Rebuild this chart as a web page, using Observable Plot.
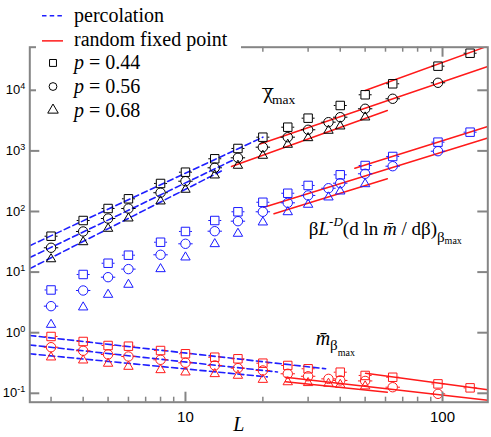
<!DOCTYPE html>
<html><head><meta charset="utf-8">
<script src="https://cdn.jsdelivr.net/npm/d3@7"></script>
<script src="https://cdn.jsdelivr.net/npm/@observablehq/plot@0.6"></script>
<style>
body{margin:0;background:#fff;}
#wrap{position:relative;width:491px;height:437px;}
#legend{position:absolute;left:36px;top:0;}
</style></head><body><div id="wrap"></div>
<script>
// ---- data ----
const sizes = [3,4,5,6,8,10,13,16,20,25,30,36,40,50,64,96,128];
const pValues = [0.44, 0.56, 0.68];

// chi_max
const chi044 = [39.1,71.0,112,162,290,445,741,1096,1683,2460,3465,null,5612,8430,12800,25000,40900];
const chi056 = [25.2,46.8,76.6,112,204,316,526,769,1151,1683,2230,2977,3597,4955,7244,13300,null];
const chi068 = [16.9,32.3,53.8,79.6,152,237,408,590,862,1309,1683,2230,2625,3696,null,null,null];
// beta L^-D (d ln m / d beta)
const beta044 = [5.07,9.13,14.0,19.0,31.1,46.8,71.0,98.9,142,200,269,null,403,574,809,1393,2036];
const beta056 = [2.74,4.97,8.24,11.2,19.3,29.3,47.3,69.2,98.9,139,184,242,293,419,559,988,null];
const beta068 = [1.40,2.71,4.38,6.41,11.6,18.1,30.0,44.5,68.4,101,134,177,222,293,null,null,null];
// m at beta_max
const m044 = [0.866,0.716,0.615,0.599,0.508,0.449,0.394,0.371,0.314,0.288,0.254,null,0.223,0.197,0.184,0.143,0.123];
const m056 = [0.576,0.503,0.437,0.405,0.357,0.319,0.288,0.260,0.238,0.210,0.191,0.173,0.163,0.160,0.126,0.098,null];
const m068 = [0.405,0.361,0.319,0.284,0.250,0.229,0.215,0.202,0.173,0.158,0.153,0.149,0.143,0.135,null,null,null];

// fit lines: [panel, p, L1, v1, L2, v2]
const percolationFits = [
  ["chi",0.44, 2.48,27.3, 20,1683],
  ["chi",0.56, 2.48,17.35, 15.4,713],
  ["chi",0.68, 2.48,11.4, 13.9,473],
  ["m",0.44, 2.48,0.899, 35.1,0.254],
  ["m",0.56, 2.48,0.627, 22.8,0.2246],
  ["m",0.68, 2.48,0.449, 20.8,0.1866]
];
const randomFits = [
  ["chi",0.44, 50,9930, 150,53600],
  ["chi",0.56, 19.5,1300, 150,24700],
  ["chi",0.68, 15.1,553, 61,4640],
  ["beta",0.44, 45.6,518, 150,2528],
  ["beta",0.56, 20.2,117.8, 150,1633],
  ["beta",0.68, 22.1,91.6, 61,346.5],
  ["m",0.44, 50.2,0.2147, 150,0.1147],
  ["m",0.56, 24.5,0.1844, 150,0.0769],
  ["m",0.68, 24.5,0.1554, 61,0.1043]
];

const xDomain = [2.48, 150];
const yDomain = [0.0713, 51400];
const yMajorTicks = [0.1, 1, 10, 100, 1000, 10000];
const xMajorTicks = [10, 100];
const xMinorTicks = [3,4,5,6,7,8,9,20,30,40,50,60,70,80,90];

const annotations = [
  {key: "A_chi", L: 19.9, v: 7600},
  {key: "A_beta", L: 30.2, v: 41.3},
  {key: "A_m", L: 32.1, v: 0.615}
];

const legendRows = [
  {row: 0, label: "percolation", kind: "dash"},
  {row: 1, label: "random fixed point", kind: "solid"},
  {row: 2, label: "p = 0.44", p: 0.44},
  {row: 3, label: "p = 0.56", p: 0.56},
  {row: 4, label: "p = 0.68", p: 0.68}
];

// ---- build tables ----
const panels = [
  {key: "chi", color: "black", series: [chi044, chi056, chi068]},
  {key: "beta", color: "#1a1aff", series: [beta044, beta056, beta068]},
  {key: "m", color: "#ff1a1a", series: [m044, m056, m068]}
];
const points = [];
for (const pn of panels) pn.series.forEach((arr, i) => arr.forEach((v, j) => {
  if (v != null) points.push({panel: pn.key, p: pValues[i], L: sizes[j], v, color: pn.color});
}));
function fitPoints(list) {
  const out = [];
  list.forEach((f, i) => {
    out.push({id: i, L: f[2], v: f[3]});
    out.push({id: i, L: f[4], v: f[5]});
  });
  return out;
}
const percPts = fitPoints(percolationFits);
const randPts = fitPoints(randomFits);

// ---- custom symbols (open marker with small error-bar caps) ----
function capped(shape, cap) {
  return {draw(ctx, size) {
    const r = Math.sqrt(size / Math.PI);
    shape(ctx, r);
    if (cap > 0) {
      ctx.moveTo(-r - cap, 0); ctx.lineTo(-r, 0);
      ctx.moveTo(r, 0); ctx.lineTo(r + cap, 0);
    }
  }};
}
const symSquare = capped((c, r) => { const h = r * 0.9; c.moveTo(-h, -h); c.lineTo(h, -h); c.lineTo(h, h); c.lineTo(-h, h); c.closePath(); }, 1.8);
const symCircle = capped((c, r) => { c.moveTo(r, 0); c.arc(0, 0, r, 0, 2 * Math.PI); }, 2.5);
const symTriangle = capped((c, r) => { c.moveTo(0, -r * 0.98); c.lineTo(r, r * 0.74); c.lineTo(-r, r * 0.74); c.closePath(); }, 0);
const symbolFor = {0.44: symSquare, 0.56: symCircle, 0.68: symTriangle};
const legendSymbol = {0.44: "square", 0.56: "circle", 0.68: "triangle"};

// ---- layout ----
const W = 491, H = 437, mL = 29.3, mR = 3.7, mT = 46.7, mB = 35.3;
const plotW = W - mL - mR, plotH = H - mT - mB;
const axisGray = "#858585";
const serif = "Liberation Serif, Times New Roman, serif";
const sans = "Liberation Sans, Arial, sans-serif";

const chart = Plot.plot({
  width: W, height: H,
  marginLeft: mL, marginRight: mR, marginTop: mT, marginBottom: mB,
  style: {background: "white", fontFamily: serif, overflow: "visible"},
  x: {type: "log", domain: xDomain, axis: null},
  y: {type: "log", domain: yDomain, axis: null},
  color: {type: "identity"},
  marks: [
    Plot.line(percPts, {x: "L", y: "v", z: "id", stroke: "#1f1fff", strokeWidth: 1.6, strokeDasharray: "6,3.5", clip: true}),
    Plot.line(randPts, {x: "L", y: "v", z: "id", stroke: "#ff1a1a", strokeWidth: 1.5, clip: true}),
    ...pValues.map(p => Plot.dot(points.filter(d => d.p === p), {
      x: "L", y: "v", stroke: "color", fill: "none", strokeWidth: 1, r: 4.7, symbol: symbolFor[p]
    })),
    Plot.frame({stroke: axisGray, strokeWidth: 2}),
    Plot.tickY(yMajorTicks, {y: d => d, stroke: axisGray, strokeWidth: 2, insetRight: plotW - 10}),
    Plot.tickY(yMajorTicks, {y: d => d, stroke: axisGray, strokeWidth: 2, insetLeft: plotW - 10}),
    Plot.tickX(xMajorTicks, {x: d => d, stroke: axisGray, strokeWidth: 2, insetTop: plotH - 10}),
    Plot.tickX(xMajorTicks, {x: d => d, stroke: axisGray, strokeWidth: 2, insetBottom: plotH - 10}),
    Plot.tickX(xMinorTicks, {x: d => d, stroke: axisGray, strokeWidth: 1.5, insetTop: plotH - 5}),
    Plot.tickX(xMinorTicks, {x: d => d, stroke: axisGray, strokeWidth: 1.5, insetBottom: plotH - 5}),
    Plot.text(yMajorTicks, {y: d => d, frameAnchor: "left", dx: -4.5, textAnchor: "end",
      text: d => "Y" + Math.round(Math.log10(d)), fontFamily: sans, fontSize: 13, fill: "black"}),
    Plot.text(xMajorTicks, {x: d => d, frameAnchor: "bottom", dy: 20, text: d => String(d),
      fontFamily: sans, fontSize: 15, fill: "black"}),
    Plot.text(["L"], {frameAnchor: "bottom", dx: -20, dy: 28.5, text: d => d,
      fontFamily: serif, fontStyle: "italic", fontSize: 20, fill: "black"}),
    Plot.text(annotations, {x: "L", y: "v", text: "key", textAnchor: "start", lineAnchor: "bottom",
      fontFamily: serif, fontSize: 19, fill: "black"})
  ]
});

const richText = {
  A_chi: `<tspan font-size="21">χ</tspan><tspan font-size="22" dx="-10.5" dy="6.8">¯</tspan><tspan font-size="13.5" dx="-1.2" dy="-0.8">max</tspan>`,
  A_beta: `β<tspan font-style="italic">L</tspan><tspan font-size="13" dy="-9">-</tspan><tspan font-size="13" font-style="italic">D</tspan><tspan dy="9">(d ln </tspan><tspan font-style="italic">m&#772;</tspan><tspan> / dβ)</tspan><tspan font-size="15" dy="7">β</tspan><tspan font-size="10" dy="2.5">max</tspan>`,
  A_m: `<tspan font-style="italic" font-size="20">m&#772;</tspan><tspan font-size="15" dy="5">β</tspan><tspan font-size="10" dy="6">max</tspan>`
};
chart.querySelectorAll("text").forEach(t => {
  const s = t.textContent;
  if (/^Y-?\d+$/.test(s)) t.innerHTML = `10<tspan dy="-5" font-size="9">${s.slice(1)}</tspan>`;
  else if (richText[s]) t.innerHTML = richText[s];
});

// ---- legend (white box overlapping the top-left of the frame) ----
const LW = 205, LH = 120;
const legend = Plot.plot({
  width: LW, height: LH, margin: 0,
  style: {background: "white", overflow: "visible"},
  y: {domain: [0, 4], range: [15.3, 109.6], axis: null},
  marks: [
    Plot.ruleY(legendRows.filter(d => d.kind === "dash"), {y: "row", stroke: "#1f1fff", strokeWidth: 1.5, strokeDasharray: "4.5,3.2", insetLeft: 6, insetRight: LW - 28}),
    Plot.ruleY(legendRows.filter(d => d.kind === "solid"), {y: "row", dy: 1.5, stroke: "#ff1a1a", strokeWidth: 1.5, insetLeft: 6, insetRight: LW - 27}),
    ...pValues.map(p => Plot.dot(legendRows.filter(d => d.p === p), {y: "row", frameAnchor: "left", dx: 16.5,
      stroke: "black", fill: "none", strokeWidth: 1, r: 3.9, symbol: legendSymbol[p]})),
    Plot.text(legendRows, {y: "row", frameAnchor: "left", dx: 37.5, textAnchor: "start", text: "label",
      fontFamily: serif, fontSize: 20, fill: "black"})
  ]
});
legend.querySelectorAll("text").forEach(t => {
  const s = t.textContent;
  if (s.startsWith("p = ")) t.innerHTML = `<tspan font-style="italic">p</tspan> = ${s.slice(4)}`;
});
legend.id = "legend";

const wrap = document.getElementById("wrap");
wrap.append(chart);
wrap.append(legend);
</script></body></html>
